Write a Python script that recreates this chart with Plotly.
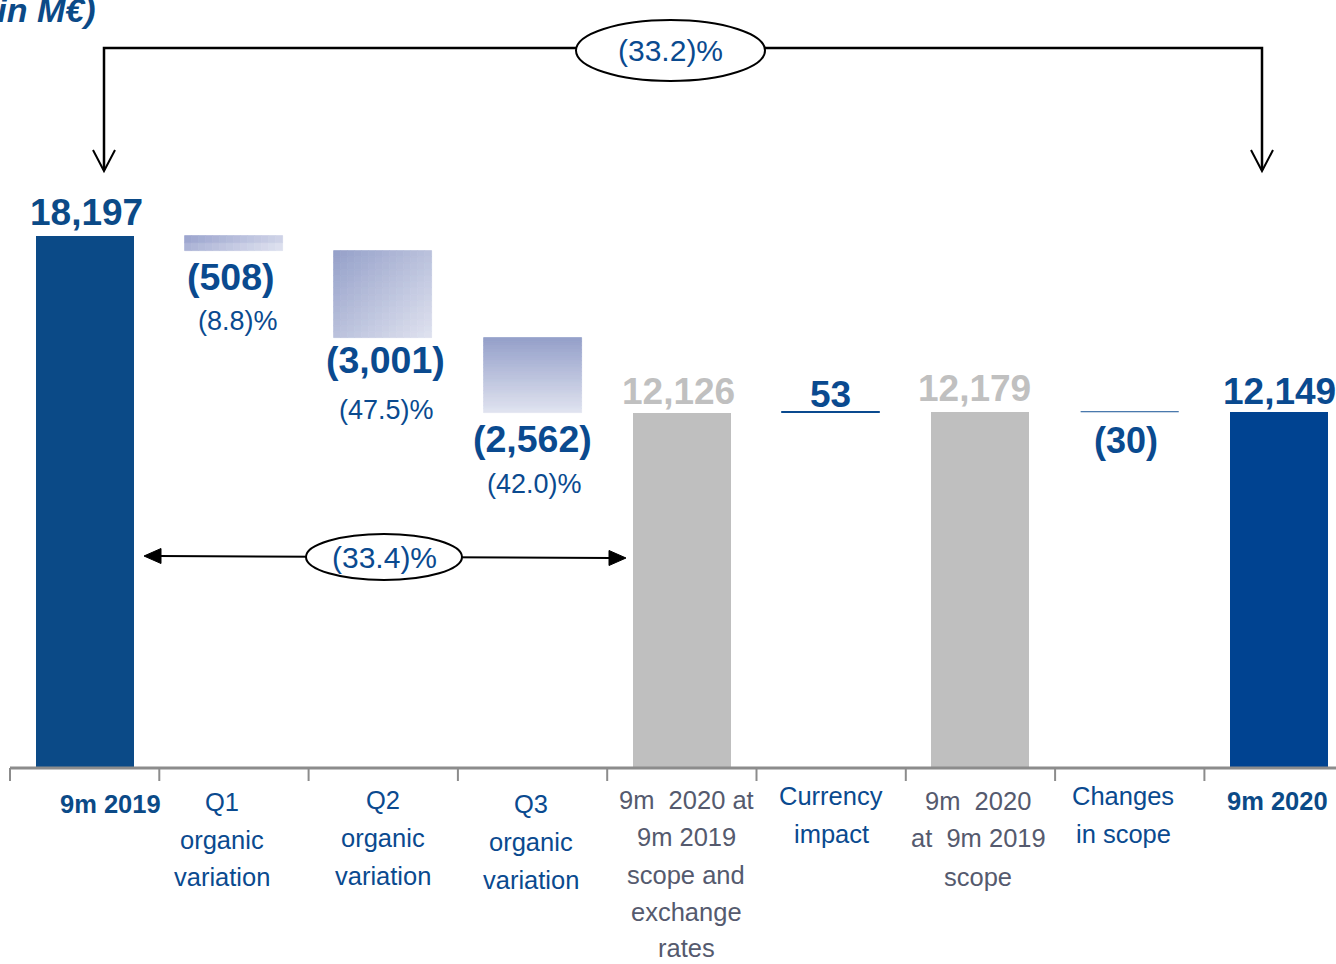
import plotly.graph_objects as go

# ---------------- data ----------------
categories = ["9m 2019", "Q1 organic variation", "Q2 organic variation", "Q3 organic variation",
              "9m 2020 at 9m 2019 scope and exchange rates", "Currency impact",
              "9m 2020 at 9m 2019 scope", "Changes in scope", "9m 2020"]
start_total = 18197
quarter_changes = [-508, -3001, -2562]
quarter_pct = ["(8.8)%", "(47.5)%", "(42.0)%"]
currency_change = 53
scope_change = -30
totals = [18197, 12126, 12179, 12149]
total_labels = ["18,197", "12,126", "12,179", "12,149"]
change_labels = ["(508)", "(3,001)", "(2,562)", "53", "(30)"]
tick_labels = [
    "<b>9m 2019</b>",
    "Q1<br>organic<br>variation",
    "Q2<br>organic<br>variation",
    "Q3<br>organic<br>variation",
    "9m  2020 at<br>9m 2019<br>scope and<br>exchange<br>rates",
    "Currency<br>impact",
    "9m  2020<br>at  9m 2019<br>scope",
    "Changes<br>in scope",
    "<b>9m 2020</b>",
]
overall_pct = "(33.2)%"
organic_pct = "(33.4)%"

# ---------------- geometry helpers (pixel mapping, reference frame) ----------------
OFF = 0                      # body margin removed via post_script
W, H = 1336 - OFF, 964 - OFF
PX_CAT = 149.3
X_MIN = -0.5 - (10 - OFF) / PX_CAT
X_MAX = X_MIN + W / PX_CAT
BASE_PY = 767 - OFF
PY_UNIT = 531 / 18197
Y_MAX = BASE_PY / PY_UNIT
Y_MIN = -(H - BASE_PY) / PY_UNIT


def X(px):
    return X_MIN + (px - OFF) / PX_CAT


def Y(py):
    return (BASE_PY - (py - OFF)) / PY_UNIT


BAR_W = 98 / PX_CAT
DARK_BLUE = "#0b4a87"
BLUE = "#0a4a8f"
BLUE_2020 = "#004391"
GREY_BAR = "#bfbfbf"
GREY_TXT = "#c0c0c0"
GREY_CAT = "#555a6e"

ARIAL = "Liberation Sans, Arial, sans-serif"

fig = go.Figure()

# total bars
fig.add_trace(go.Bar(x=[0], y=[totals[0]], width=BAR_W, marker=dict(color=DARK_BLUE, line=dict(width=0)),
                     hoverinfo="skip", showlegend=False))
fig.add_trace(go.Bar(x=[4, 6], y=[totals[1], totals[2]], width=BAR_W,
                     marker=dict(color=GREY_BAR, line=dict(width=0)), hoverinfo="skip", showlegend=False))
fig.add_trace(go.Bar(x=[8], y=[totals[3]], width=BAR_W, marker=dict(color=BLUE_2020, line=dict(width=0)),
                     hoverinfo="skip", showlegend=False))


def hex2rgb(h):
    h = h.lstrip("#")
    return tuple(int(h[i:i + 2], 16) for i in (0, 2, 4))


def mix(c1, c2, t):
    a, b = hex2rgb(c1), hex2rgb(c2)
    return "rgb(%d,%d,%d)" % tuple(round(a[k] + (b[k] - a[k]) * t) for k in range(3))


def gradient_bar(xc, lo, hi, c_dark, c_light, nx, ny, wx, wy):
    h = (hi - lo) / ny
    for i in range(nx):
        bases, heights, cols = [], [], []
        for j in range(ny):
            r = ny - 1 - j  # row index from top
            tx = i / (nx - 1) if nx > 1 else 0
            ty = r / (ny - 1) if ny > 1 else 0
            t = (wx * tx + wy * ty) / (wx + wy)
            bases.append(lo + j * h)
            heights.append(h)
            cols.append(mix(c_dark, c_light, t))
        fig.add_trace(go.Bar(x=[xc] * ny, y=heights, base=bases, width=BAR_W / nx,
                             offset=-BAR_W / 2 + i * BAR_W / nx,
                             marker=dict(color=cols, line=dict(color=cols, width=0.8)),
                             hoverinfo="skip", showlegend=False))


running = start_total
grad_specs = [("#9ea7cf", "#dcdfee", 14, 2, 1.0, 0.3),
              ("#97a2ca", "#dde0ee", 14, 14, 1.0, 1.0),
              ("#96a1ca", "#dfe2ef", 1, 20, 0.0, 1.0)]
for k, ch in enumerate(quarter_changes):
    new = running + ch
    cd, cl, nx, ny, wx, wy = grad_specs[k]
    gradient_bar(k + 1, new, running, cd, cl, nx, ny, wx, wy)
    running = new

# currency & scope thin bars
fig.add_trace(go.Bar(x=[5], y=[currency_change], base=[totals[1]], width=BAR_W,
                     marker=dict(color=BLUE, line=dict(color=BLUE, width=1)), hoverinfo="skip", showlegend=False))
fig.add_trace(go.Bar(x=[7], y=[-scope_change], base=[totals[2] + scope_change], width=BAR_W,
                     marker=dict(color=BLUE, line=dict(color=BLUE, width=0.6)), hoverinfo="skip", showlegend=False))

shapes = []
# axis line and ticks
shapes.append(dict(type="line", xref="x", yref="y", x0=X(10), x1=X(1345), y0=Y(768), y1=Y(768),
                   line=dict(color="#8c8c8c", width=3)))
for i in range(9):
    shapes.append(dict(type="line", xref="x", yref="y", x0=i - 0.5, x1=i - 0.5, y0=Y(768), y1=Y(781),
                       line=dict(color="#8c8c8c", width=2)))

# top bracket
blk = dict(color="black", width=2.5)
shapes.append(dict(type="path", xref="x", yref="y",
                   path="M %f,%f L %f,%f L %f,%f L %f,%f" % (X(104), Y(170), X(104), Y(48),
                                                             X(1262), Y(48), X(1262), Y(170)),
                   line=blk))
for xp in (104, 1262):
    shapes.append(dict(type="path", xref="x", yref="y",
                       path="M %f,%f L %f,%f L %f,%f" % (X(xp - 11), Y(150), X(xp), Y(171), X(xp + 11), Y(150)),
                       line=dict(color="black", width=2)))
shapes.append(dict(type="circle", xref="x", yref="y", x0=X(576), x1=X(765), y0=Y(20), y1=Y(81),
                   fillcolor="white", line=dict(color="black", width=2)))

# middle double arrow
shapes.append(dict(type="line", xref="x", yref="y", x0=X(158), y0=Y(556), x1=X(612), y1=Y(558),
                   line=dict(color="black", width=2)))
shapes.append(dict(type="path", xref="x", yref="y",
                   path="M %f,%f L %f,%f L %f,%f Z" % (X(144), Y(556), X(161), Y(548.5), X(161), Y(563.5)),
                   fillcolor="black", line=dict(color="black", width=1)))
shapes.append(dict(type="path", xref="x", yref="y",
                   path="M %f,%f L %f,%f L %f,%f Z" % (X(626), Y(558), X(609), Y(550.5), X(609), Y(565.5)),
                   fillcolor="black", line=dict(color="black", width=1)))
shapes.append(dict(type="circle", xref="x", yref="y", x0=X(306), x1=X(462), y0=Y(534), y1=Y(580),
                   fillcolor="white", line=dict(color="black", width=2)))

annotations = []


def ann(text, xpx, ypx, size, color, family=ARIAL, xanchor="center"):
    annotations.append(dict(text=text, x=X(xpx), y=Y(ypx), xref="x", yref="y", showarrow=False,
                            xanchor=xanchor, yanchor="middle",
                            font=dict(size=size, color=color, family=family)))


# title
ann("<b><i>(in M€)</i></b>", 98, 10, 34, DARK_BLUE, xanchor="right")

# value labels
ann("<b>%s</b>" % total_labels[0], 86, 212, 37, DARK_BLUE)
ann("<b>%s</b>" % change_labels[0], 231, 277, 37.5, BLUE)
ann(quarter_pct[0], 238, 321, 27, BLUE)
ann("<b>%s</b>" % change_labels[1], 385, 360, 37.5, BLUE)
ann(quarter_pct[1], 386, 410, 27, BLUE)
ann("<b>%s</b>" % change_labels[2], 532, 439, 37.5, BLUE)
ann(quarter_pct[2], 534, 484, 27, BLUE)
ann("<b>%s</b>" % total_labels[1], 678, 391, 37, GREY_TXT)
ann("<b>%s</b>" % change_labels[3], 830, 394, 37, BLUE)
ann("<b>%s</b>" % total_labels[2], 974, 388, 37, GREY_TXT)
ann("<b>%s</b>" % change_labels[4], 1126, 440, 36, BLUE)
ann("<b>%s</b>" % total_labels[3], 1279, 391, 37, BLUE)

# ellipse labels
ann(overall_pct, 670, 50, 30, BLUE)
ann(organic_pct, 384, 557, 30, BLUE)

# category labels (one annotation per line to keep reference line spacing)
cat_x = [110, 222, 383, 531, 686, 831, 978, 1123, 1277]
cat_lines_y = [[804], [802, 840, 877], [800, 838, 876], [804, 842, 880],
               [800, 837, 875, 912, 948], [796, 834], [801, 838, 877], [796, 834], [801]]
cat_col = [DARK_BLUE, BLUE, BLUE, BLUE, GREY_CAT, BLUE, GREY_CAT, BLUE, DARK_BLUE]
for lbl, xp, ys, col in zip(tick_labels, cat_x, cat_lines_y, cat_col):
    for line, yp in zip(lbl.split("<br>"), ys):
        ann(line, xp, yp, 25.5, col)

fig.update_layout(
    width=W, height=H, margin=dict(l=0, r=0, t=0, b=0),
    paper_bgcolor="white", plot_bgcolor="white",
    barmode="overlay", bargap=0,
    xaxis=dict(range=[X_MIN, X_MAX], visible=False, fixedrange=True),
    yaxis=dict(range=[Y_MIN, Y_MAX], visible=False, fixedrange=True),
    shapes=shapes, annotations=annotations, showlegend=False,
)
fig.write_html("out.html", config={"displayModeBar": False},
               post_script="document.body.style.margin='0';document.body.style.overflow='hidden';")
